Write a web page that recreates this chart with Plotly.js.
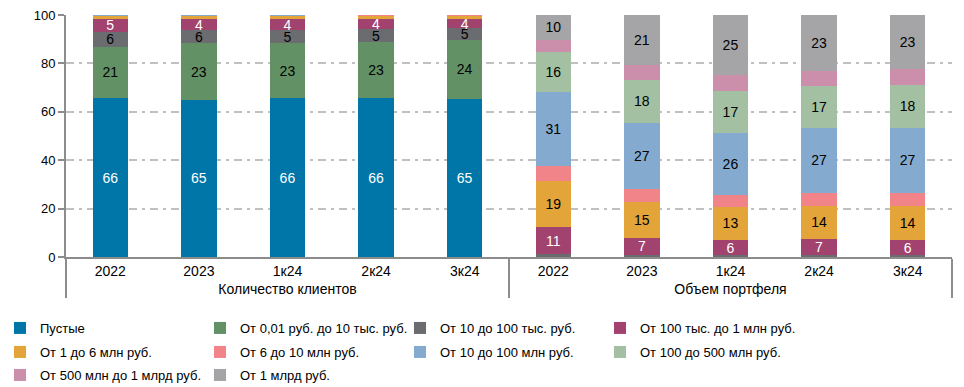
<!DOCTYPE html>
<html>
<head>
<meta charset="utf-8">
<script src="https://cdn.plot.ly/plotly-3.0.1.min.js"></script>
<style>html,body{margin:0;padding:0;background:#fff;}#chart{width:964px;height:387px;}</style>
</head>
<body>
<div id="chart"></div>
<script>
// Categories
var groups = ['Количество клиентов','Количество клиентов','Количество клиентов','Количество клиентов','Количество клиентов',
              'Объем портфеля','Объем портфеля','Объем портфеля','Объем портфеля','Объем портфеля'];
var periods = ['2022','2023','1к24','2к24','3к24','2022','2023','1к24','2к24','3к24'];

// Series values (%), first five = clients, last five = portfolio
var empty      = [65.7, 64.9, 65.7, 65.7, 65.3, 0, 0, 0, 0, 0];
var to10k      = [21.1, 23.5, 22.7, 23.1, 24.4, 0, 0, 0, 0, 0];
var k10to100   = [6.3, 5.4, 5.4, 5.4, 4.9, 1.2, 0.7, 0.7, 0.7, 0.7];
var k100to1m   = [5.2, 4.5, 4.4, 4.1, 3.7, 11.2, 7.3, 6.4, 6.9, 6.4];
var m1to6      = [1.2, 1.2, 1.3, 1.3, 1.3, 19.0, 14.9, 13.6, 13.6, 14.1];
var m6to10     = [0.2, 0.2, 0.2, 0.2, 0.2, 6.3, 5.2, 4.9, 5.2, 5.2];
var m10to100   = [0.15, 0.15, 0.15, 0.15, 0.15, 30.6, 27.3, 25.6, 27.0, 27.0];
var m100to500  = [0.05, 0.05, 0.05, 0.05, 0.05, 16.5, 17.9, 17.4, 17.4, 17.7];
var m500to1b   = [0.03, 0.03, 0.03, 0.03, 0.03, 4.9, 6.0, 6.6, 6.1, 6.6];
var over1b     = [0.1, 0.1, 0.1, 0.1, 0.1, 10.3, 20.7, 24.8, 23.1, 22.3];

// Labels shown on bars
var emptyLbl     = ['66','65','66','66','65','','','','',''];
var to10kLbl     = ['21','23','23','23','24','','','','',''];
var k10to100Lbl  = ['6','6','5','5','5','','','','',''];
var k100to1mLbl  = ['5','4','4','4','4','11','7','6','7','6'];
var m1to6Lbl     = ['','','','','','19','15','13','14','14'];
var m10to100Lbl  = ['','','','','','31','27','26','27','27'];
var m100to500Lbl = ['','','','','','16','18','17','17','18'];
var over1bLbl    = ['','','','','','10','21','25','23','23'];
var noLbl        = ['','','','','','','','','',''];

var names = ['Пустые','От 0,01 руб. до 10 тыс. руб.','От 10 до 100 тыс. руб.','От 100 тыс. до 1 млн руб.',
             'От 1 до 6 млн руб.','От 6 до 10 млн руб.','От 10 до 100 млн руб.','От 100 до 500 млн руб.',
             'От 500 млн до 1 млрд руб.','От 1 млрд руб.'];
var series = [empty, to10k, k10to100, k100to1m, m1to6, m6to10, m10to100, m100to500, m500to1b, over1b];
var labels = [emptyLbl, to10kLbl, k10to100Lbl, k100to1mLbl, m1to6Lbl, noLbl, m10to100Lbl, m100to500Lbl, noLbl, over1bLbl];
var colors = ['#0076a8','#639166','#6b6c70','#a2436f','#e3a43a','#f08488','#84abcf','#a3c0a2','#cb8eab','#a5a5a7'];
var textColors = ['#ffffff','#000000','#000000','#ffffff','#000000','#000000','#000000','#000000','#000000','#000000'];
var legendRow = ['legend','legend','legend','legend','legend2','legend2','legend2','legend2','legend3','legend3'];

var FONT = 'Liberation Sans, Arial, sans-serif';

var data = series.map(function(vals, i){
  return {
    type: 'bar',
    name: names[i],
    legend: legendRow[i],
    x: [groups, periods],
    y: vals,
    text: labels[i],
    textposition: 'inside',
    insidetextanchor: 'middle',
    textangle: 0,
    textfont: {family: FONT, size: 14, color: textColors[i]},
    marker: {color: colors[i], line: {width: 0}},
    hoverinfo: 'skip'
  };
});

function legendAt(yPix){
  return {
    orientation: 'h',
    xref: 'container', yref: 'container',
    x: 0, y: 1 - yPix / 387, xanchor: 'left', yanchor: 'middle',
    entrywidth: 155, entrywidthmode: 'pixels',
    traceorder: 'normal',
    font: {family: FONT, size: 13, color: '#000000'},
    bgcolor: 'rgba(0,0,0,0)'
  };
}

var layout = {
  width: 964, height: 387,
  barmode: 'stack',
  bargap: 0.6,
  margin: {l: 66, r: 12, t: 15, b: 130},
  paper_bgcolor: '#ffffff',
  plot_bgcolor: '#ffffff',
  font: {family: FONT, size: 14, color: '#000000'},
  uniformtext: {mode: 'show', minsize: 14},
  showlegend: true,
  xaxis: {
    type: 'multicategory',
    showline: true, linecolor: '#8c8c8c', linewidth: 2,
    ticks: '', showgrid: false,
    showdividers: true, dividercolor: '#8c8c8c', dividerwidth: 2,
    tickfont: {family: FONT, size: 14, color: '#000000'}
  },
  yaxis: {
    range: [0, 100], dtick: 20,
    showline: true, linecolor: '#8c8c8c', linewidth: 2,
    ticks: 'outside', ticklen: 6, tickcolor: '#8c8c8c', tickwidth: 2,
    showgrid: true, gridcolor: '#c0c0c0', gridwidth: 2, griddash: '8px,5px,3px,5px',
    zeroline: false,
    tickfont: {family: FONT, size: 13, color: '#000000'}
  },
  legend: legendAt(328),
  legend2: legendAt(352),
  legend3: legendAt(375)
};

Plotly.newPlot('chart', data, layout, {displayModeBar: false, staticPlot: true});
</script>
</body>
</html>
